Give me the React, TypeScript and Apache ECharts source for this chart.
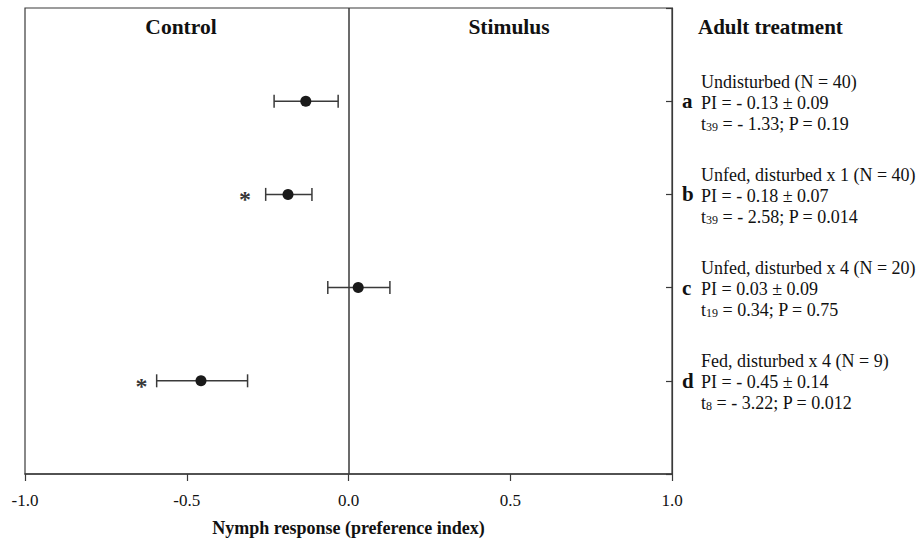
import React, { useEffect, useRef } from "react";
import * as echarts from "echarts";

const letters = ["a", "b", "c", "d"];
const means = [-0.132, -0.187, 0.03, -0.456];
const lows = [-0.23, -0.256, -0.064, -0.593];
const highs = [-0.032, -0.113, 0.128, -0.312];
const starX = [null, -0.32, null, -0.64];
const treatments = [
  "Undisturbed (N = 40)",
  "Unfed, disturbed x 1 (N = 40)",
  "Unfed, disturbed x 4 (N = 20)",
  "Fed, disturbed x 4 (N = 9)",
];
const piTexts = ["PI = - 0.13 ± 0.09", "PI = - 0.18 ± 0.07", "PI = 0.03 ± 0.09", "PI = - 0.45 ± 0.14"];
const dfs = ["39", "39", "19", "8"];
const tTails = ["= - 1.33; P = 0.19", "= - 2.58; P = 0.014", "= 0.34; P = 0.75", "= - 3.22; P = 0.012"];
const xTicks = [-1, -0.5, 0, 0.5, 1];

const FONT = "'Liberation Serif', 'Times New Roman', serif";

export default function App() {
  const ref = useRef<HTMLDivElement>(null);
  useEffect(() => {
    if (!ref.current) return;
    const chart = echarts.init(ref.current, null, { renderer: "svg" });
    const ink = "#3a3a3a";
    const option: any = {
      animation: false,
      backgroundColor: "#ffffff",
      textStyle: { fontFamily: FONT, color: "#111" },
      grid: { left: 25, right: 247, top: 8, bottom: 69, show: true, borderColor: ink, borderWidth: 1.2 },
      xAxis: {
        type: "value",
        min: xTicks[0],
        max: xTicks[xTicks.length - 1],
        interval: 0.5,
        splitLine: { show: false },
        axisLine: { show: true, onZero: false, lineStyle: { color: ink, width: 1.5 } },
        axisTick: { show: true, length: 7, lineStyle: { color: ink, width: 1.2 } },
        axisLabel: {
          margin: 18,
          fontFamily: FONT,
          fontSize: 17,
          color: "#111",
          formatter: (v: number) => v.toFixed(1),
        },
        name: "Nymph response (preference index)",
        nameLocation: "middle",
        nameGap: 45,
        nameTextStyle: { fontFamily: FONT, fontSize: 18, fontWeight: "bold", color: "#111" },
      },
      yAxis: {
        type: "value",
        min: 0,
        max: 5,
        interval: 1,
        inverse: true,
        position: "right",
        splitLine: { show: false },
        axisLine: { show: true, onZero: false, lineStyle: { color: ink, width: 1.2 } },
        axisTick: { show: true, inside: true, length: 6, lineStyle: { color: ink, width: 1.2 } },
        axisLabel: {
          margin: 10,
          align: "left",
          verticalAlign: "middle",
          fontFamily: FONT,
          formatter: (v: number) => {
            const i = Math.round(v) - 1;
            if (i < 0 || i > 3) return "";
            return (
              `{sp|}{t|${treatments[i]}}\n` +
              `{b|${letters[i]}}{t|${piTexts[i]}}\n` +
              `{sp|}{t|t}{sub|${dfs[i]}}{t| ${tTails[i]}}`
            );
          },
          rich: {
            sp: { width: 19, lineHeight: 21, verticalAlign: "bottom" },
            b: { width: 19, fontSize: 21, fontWeight: "bold", fontFamily: FONT, color: "#111", lineHeight: 21, verticalAlign: "bottom" },
            t: { fontSize: 18, fontFamily: FONT, color: "#111", lineHeight: 21, verticalAlign: "bottom" },
            sub: { fontSize: 12, fontFamily: FONT, color: "#111", lineHeight: 7, verticalAlign: "bottom" },
          },
        },
      },
      graphic: [
        { type: "text", x: 181, y: 27, style: { text: "Control", font: `bold 21.5px ${FONT}`, fill: "#111", textAlign: "center", textVerticalAlign: "middle" } },
        { type: "text", x: 509, y: 27, style: { text: "Stimulus", font: `bold 21.5px ${FONT}`, fill: "#111", textAlign: "center", textVerticalAlign: "middle" } },
        { type: "text", x: 698, y: 27, style: { text: "Adult treatment", font: `bold 21px ${FONT}`, fill: "#111", textAlign: "left", textVerticalAlign: "middle" } },
      ],
      series: [
        {
          type: "custom",
          data: letters.map((_, i) => [lows[i], highs[i], i + 1]),
          renderItem: (params: any, api: any) => {
            const p1 = api.coord([api.value(0), api.value(2)]);
            const p2 = api.coord([api.value(1), api.value(2)]);
            const h = 6.5;
            const style = { stroke: ink, lineWidth: 1.5 };
            return {
              type: "group",
              children: [
                { type: "line", shape: { x1: p1[0], y1: p1[1], x2: p2[0], y2: p2[1] }, style },
                { type: "line", shape: { x1: p1[0], y1: p1[1] - h, x2: p1[0], y2: p1[1] + h }, style },
                { type: "line", shape: { x1: p2[0], y1: p2[1] - h, x2: p2[0], y2: p2[1] + h }, style },
              ],
            };
          },
          z: 2,
        },
        {
          type: "scatter",
          data: letters.map((_, i) => [means[i], i + 1]),
          symbol: "circle",
          symbolSize: 11,
          itemStyle: { color: "#1a1a1a", opacity: 1 },
          z: 3,
          markLine: {
            silent: true,
            symbol: "none",
            label: { show: false },
            lineStyle: { color: ink, width: 1.5, type: "solid" },
            data: [{ xAxis: 0 }],
          },
        },
        {
          type: "scatter",
          data: starX
            .map((x, i) => (x === null ? null : [x, i + 1]))
            .filter((d) => d !== null),
          symbolSize: 0,
          label: {
            show: true,
            position: "inside",
            formatter: "*",
            fontFamily: FONT,
            fontSize: 24,
            fontWeight: "bold",
            color: "#000",
            offset: [0, 5],
          },
          z: 3,
        },
      ],
    };
    chart.setOption(option);
    return () => chart.dispose();
  }, []);
  return <div ref={ref} style={{ position: "fixed", left: 0, top: 0, width: 919, height: 543 }} />;
}
